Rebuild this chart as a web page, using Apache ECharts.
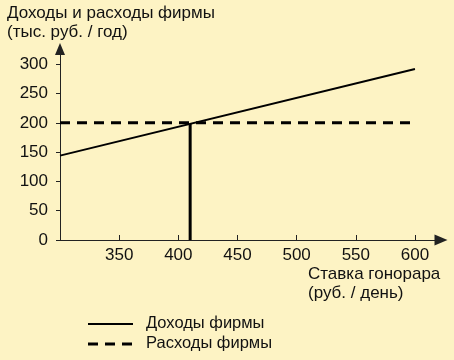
<!DOCTYPE html>
<html><head><meta charset="utf-8">
<script src="https://cdn.jsdelivr.net/npm/echarts@6/dist/echarts.min.js"></script>
<style>html,body{margin:0;padding:0;background:#FDF3C4;}#c{width:454px;height:360px;}</style>
</head><body><div id="c"></div>
<script>
const xTicks = [350, 400, 450, 500, 550, 600];
const yTicks = [0, 50, 100, 150, 200, 250, 300];
const revenueX = [300, 600];
const revenueY = [144, 292];
const costX = [300, 600];
const costY = [200, 200];
const markX = [410, 410];
const markY = [0, 198];
const seriesNames = ['Доходы фирмы', 'Расходы фирмы'];

const font = 'Liberation Sans, Arial, sans-serif';
const ink = '#111';
const chart = echarts.init(document.getElementById('c'), null, {renderer: 'canvas'});
chart.setOption({
  backgroundColor: '#FDF3C4',
  animation: false,
  title: [
    {text: 'Доходы и расходы фирмы\n(тыс. руб. / год)', left: 7, top: 4, padding: 0,
     textStyle: {fontFamily: font, fontSize: 17, fontWeight: 'normal', color: ink, lineHeight: 19}},
    {text: 'Ставка гонорара\n(руб. / день)', left: 308, top: 265, padding: 0,
     textStyle: {fontFamily: font, fontSize: 17, fontWeight: 'normal', color: ink, lineHeight: 19}}
  ],
  graphic: [
    {type: 'line', shape: {x1: 88, y1: 324, x2: 133, y2: 324}, style: {stroke: '#000', lineWidth: 2}},
    {type: 'text', left: 146, top: 315, style: {text: seriesNames[0], fontFamily: font, fontSize: 16.5, fill: ink}},
    {type: 'line', shape: {x1: 88, y1: 344, x2: 133, y2: 344}, style: {stroke: '#000', lineWidth: 3, lineDash: [10, 7]}},
    {type: 'text', left: 146, top: 335, style: {text: seriesNames[1], fontFamily: font, fontSize: 16.5, fill: ink}}
  ],
  grid: {left: 60, right: 13, top: 49, bottom: 120, containLabel: false},
  xAxis: {
    type: 'value', min: 300, max: 622,
    axisLine: {show: true, symbol: ['none', 'triangle'], symbolSize: [11, 13], lineStyle: {color: '#222', width: 1}},
    axisTick: {show: true, inside: true, length: 5, customValues: xTicks, lineStyle: {color: '#222'}},
    axisLabel: {customValues: xTicks, margin: 7, fontFamily: font, fontSize: 17, color: ink},
    splitLine: {show: false}
  },
  yAxis: {
    type: 'value', min: 0, max: 326,
    axisLine: {show: true, symbol: ['none', 'triangle'], symbolSize: [10, 12], lineStyle: {color: '#222', width: 1}},
    axisTick: {show: true, inside: false, length: 4, customValues: yTicks, lineStyle: {color: '#222'}},
    axisLabel: {customValues: yTicks, margin: 12, fontFamily: font, fontSize: 17, color: ink},
    splitLine: {show: false}
  },
  series: [
    {name: seriesNames[0], type: 'line', showSymbol: false, symbol: 'none',
     data: revenueX.map((x, i) => [x, revenueY[i]]),
     lineStyle: {color: '#000', width: 2}, itemStyle: {color: '#000'}},
    {name: seriesNames[1], type: 'line', showSymbol: false, symbol: 'none',
     data: costX.map((x, i) => [x, costY[i]]),
     lineStyle: {color: '#000', width: 3, type: [10, 7]}, itemStyle: {color: '#000'}},
    {name: 'mark', type: 'line', showSymbol: false, symbol: 'none',
     data: markX.map((x, i) => [x, markY[i]]),
     lineStyle: {color: '#000', width: 3}, itemStyle: {color: '#000'}}
  ]
});
</script></body></html>
